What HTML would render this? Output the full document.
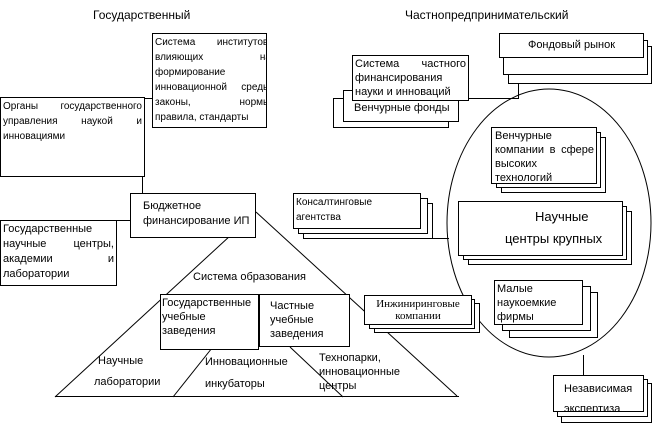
<!DOCTYPE html>
<html><head><meta charset="utf-8"><style>
body{margin:0;width:655px;height:419px;background:#fff;position:relative;overflow:hidden;font-family:"Liberation Sans",sans-serif;font-size:10px;color:#000}
.b{position:absolute;border:1px solid #000;background:#fff;box-sizing:border-box;line-height:15px;padding:1px 2px}
.j{text-align:justify;text-align-last:justify}
.t{position:absolute;white-space:nowrap}
svg{position:absolute;left:0;top:0}
</style></head><body>
<svg width="655" height="419">
<g stroke="#000" fill="none" stroke-width="1">
<ellipse cx="549" cy="223" rx="102" ry="134"/>
<line x1="256" y1="212" x2="55" y2="397"/>
<line x1="256" y1="212" x2="457" y2="396"/>
<line x1="55" y1="396.5" x2="459" y2="396.5"/>
<line x1="212" y1="348" x2="173" y2="397"/>
<line x1="290" y1="347" x2="343" y2="397"/>
<line x1="140" y1="98.5" x2="152" y2="98.5"/>
<line x1="142.5" y1="176" x2="142.5" y2="193"/>
<line x1="113" y1="220.5" x2="130" y2="220.5"/>
<line x1="468" y1="98.5" x2="519" y2="98.5"/>
<line x1="518.5" y1="75" x2="518.5" y2="98"/>
<line x1="433" y1="238.5" x2="449" y2="238.5"/>
<line x1="583.5" y1="355" x2="583.5" y2="375"/>
</g></svg>
<div class="t" style="left:93px;top:8px;font-size:12px">Государственный</div>
<div class="t" style="left:405px;top:8px;font-size:12px">Частнопредпринимательский</div>

<div class="b" style="left:0;top:97px;width:145px;height:80px"><div class="j">Органы государственного управления наукой и</div>инновациями</div>
<div class="b" style="left:152px;top:33px;width:115px;height:95px;overflow:hidden"><div class="j" style="width:116px">Система институтов, влияющих на</div>формирование<div class="j" style="width:118px">инновационной среды, законы, нормы,</div>правила, стандарты</div>
<div class="b" style="left:130px;top:193px;width:126px;height:45px;padding:5px 0 0 12px;font-size:11px;white-space:nowrap">Бюджетное<br>финансирование ИП</div>
<div class="b" style="left:0;top:220px;width:117px;height:66px;font-size:11px;line-height:15px"><div class="j">Государственные научные центры, академии и</div>лаборатории</div>
<div class="t" style="left:193px;top:271px;font-size:11px">Система образования</div>
<div class="b" style="left:160px;top:294px;width:99px;height:56px;font-size:11px;line-height:14px;padding:1px">Государственные учебные заведения</div>
<div class="b" style="left:259px;top:294px;width:91px;height:53px;font-size:11px;line-height:14px;padding:4px 10px">Частные учебные заведения</div>
<div class="t" style="left:98px;top:355px;font-size:11px">Научные</div>
<div class="t" style="left:94px;top:376px;font-size:11px">лаборатории</div>
<div class="t" style="left:205px;top:356px;font-size:11px">Инновационные</div>
<div class="t" style="left:205px;top:378px;font-size:11px">инкубаторы</div>
<div class="t" style="left:319px;top:351px;font-size:11px;line-height:14px">Технопарки,<br>инновационные<br>центры</div>

<div class="b" style="left:508px;top:46px;width:144px;height:38px"></div>
<div class="b" style="left:503px;top:40px;width:145px;height:35px"></div>
<div class="b" style="left:499px;top:33px;width:145px;height:25px;text-align:center;padding-top:4px;font-size:11px">Фондовый рынок</div>
<div class="b" style="left:333px;top:98px;width:116px;height:30px"></div>
<div class="b" style="left:343px;top:90px;width:116px;height:32px;padding:10px 0 0 10px;font-size:11px;white-space:nowrap">Венчурные фонды</div>
<div class="b" style="left:352px;top:55px;width:117px;height:46px;font-size:11px;line-height:14px"><div class="j">Система частного</div>финансирования науки и инноваций</div>
<div class="b" style="left:501px;top:137px;width:105px;height:56px"></div>
<div class="b" style="left:496px;top:132px;width:105px;height:56px"></div>
<div class="b" style="left:491px;top:127px;width:106px;height:57px;font-size:11px;line-height:14px;overflow:hidden;padding:1px 2px 0 3px"><div class="j">Венчурные компании в сфере</div>высоких технологий</div>
<div class="b" style="left:303px;top:203px;width:130px;height:36px"></div>
<div class="b" style="left:298px;top:198px;width:130px;height:36px"></div>
<div class="b" style="left:293px;top:193px;width:128px;height:36px;line-height:15px">Консалтинговые<br>агентства</div>
<div class="b" style="left:468px;top:211px;width:164px;height:54px"></div>
<div class="b" style="left:463px;top:206px;width:164px;height:54px"></div>
<div class="b" style="left:458px;top:201px;width:165px;height:55px;font-size:13px;line-height:22px;padding:4px 0 0 0"><div style="padding-left:76px">Научные</div><div style="padding-left:46px">центры крупных</div></div>
<div class="b" style="left:509px;top:292px;width:89px;height:46px"></div>
<div class="b" style="left:502px;top:286px;width:89px;height:45px"></div>
<div class="b" style="left:494px;top:280px;width:89px;height:45px;font-size:11px;line-height:14px">Малые наукоемкие фирмы</div>
<div class="b" style="left:374px;top:303px;width:106px;height:30px"></div>
<div class="b" style="left:369px;top:299px;width:106px;height:30px"></div>
<div class="b" style="left:364px;top:295px;width:108px;height:30px;font-family:'Liberation Serif',serif;font-size:11px;line-height:12px;text-align:center;padding-top:2px">Инжиниринговые<br>компании</div>
<div class="b" style="left:561px;top:383px;width:91px;height:40px"></div>
<div class="b" style="left:557px;top:379px;width:91px;height:38px"></div>
<div class="b" style="left:553px;top:375px;width:91px;height:37px;font-size:11px;line-height:20px;padding:3px 10px 0;overflow:hidden">Независимая экспертиза</div>
</body></html>
